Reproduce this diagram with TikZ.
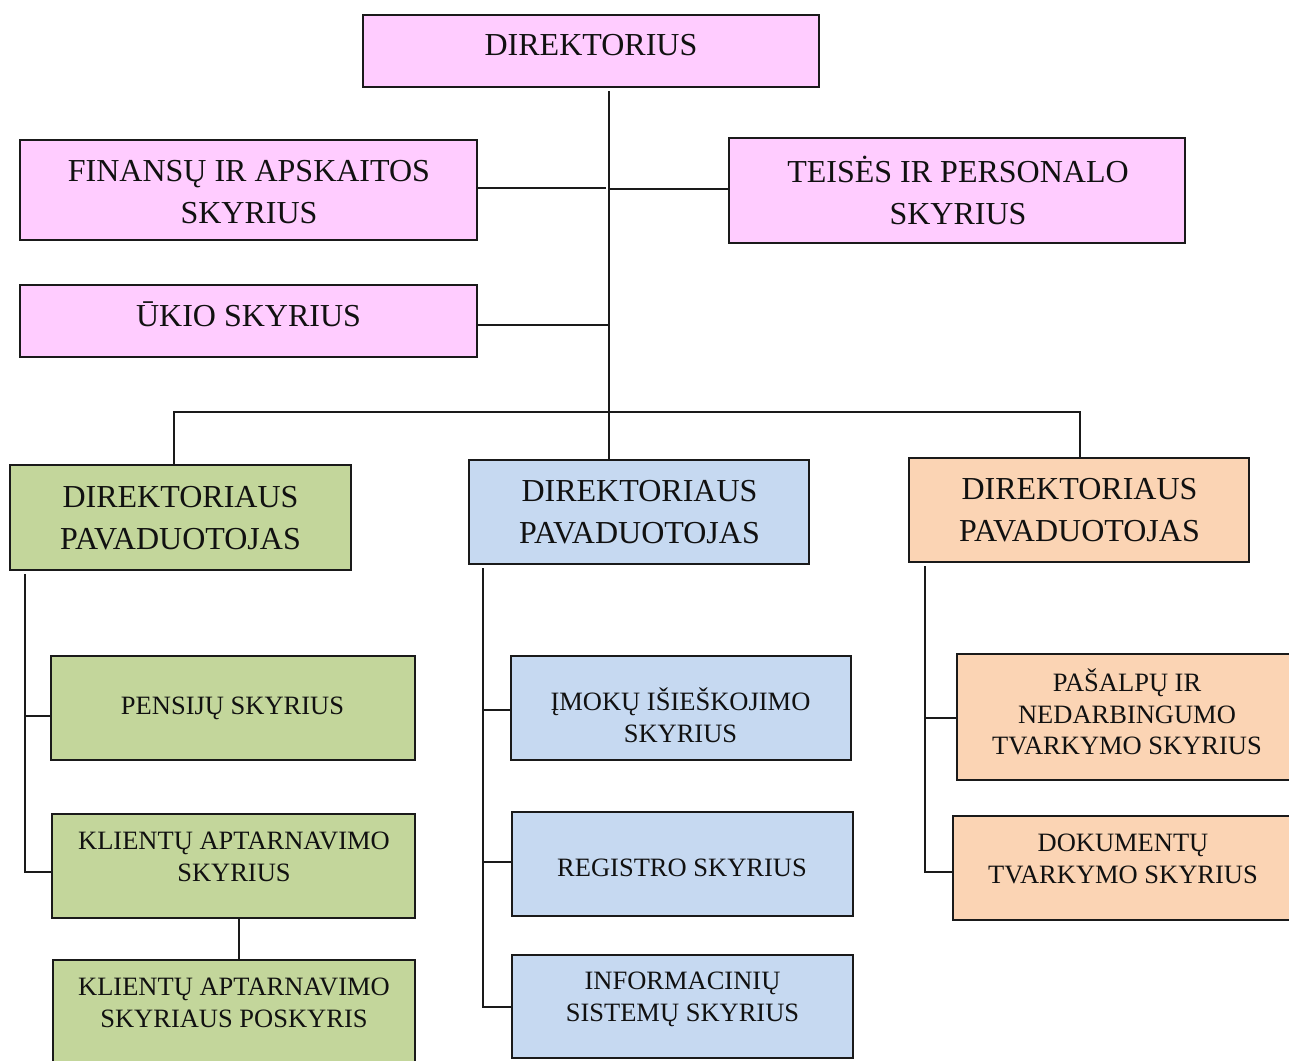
\documentclass[tikz,border=0pt]{standalone}
\usepackage{fontspec}
\setmainfont{Liberation Serif}
\usetikzlibrary{calc}
\definecolor{cpink}{HTML}{FFCCFF}
\definecolor{cgreen}{HTML}{C3D69B}
\definecolor{cblue}{HTML}{C6D9F1}
\definecolor{corange}{HTML}{FBD4B4}
\definecolor{cline}{HTML}{1A1A1A}
\definecolor{ctext}{HTML}{111111}
\tikzset{
  box/.style={draw=cline, line width=2pt, inner sep=0pt, rectangle},
  bigtxt/.style={inner sep=0pt, align=center, text=ctext, font=\fontsize{32}{42}\selectfont},
  smalltxt/.style={inner sep=0pt, align=center, text=ctext, font=\fontsize{26.5}{32}\selectfont},
  conn/.style={draw=cline, line width=2pt},
}
\begin{document}
\begin{tikzpicture}[x=1pt,y=-1pt]
\clip (0,0) rectangle (1289,1060);
\fill[white] (0,0) rectangle (1289,1060);

% boxes
\node[box, fill=cpink, minimum width=456pt, minimum height=72pt] (dir) at (591,51) {};
\node[box, fill=cpink, minimum width=457pt, minimum height=100pt] (fin) at (248.5,190) {};
\node[box, fill=cpink, minimum width=456pt, minimum height=105pt] (teis) at (957,190.5) {};
\node[box, fill=cpink, minimum width=457pt, minimum height=72pt] (uk) at (248.5,321) {};
\node[box, fill=cgreen, minimum width=341pt, minimum height=105pt] (green) at (180.5,517.5) {};
\node[box, fill=cblue, minimum width=340pt, minimum height=104pt] (blue) at (639,512) {};
\node[box, fill=corange, minimum width=340pt, minimum height=104pt] (orange) at (1079,510) {};
\node[box, fill=cgreen, minimum width=364pt, minimum height=104pt] (pens) at (233,708) {};
\node[box, fill=cgreen, minimum width=363pt, minimum height=104pt] (klient) at (233.5,866) {};
\node[box, fill=cgreen, minimum width=362pt, minimum height=110pt] (posk) at (234,1015) {};
\node[box, fill=cblue, minimum width=340pt, minimum height=104pt] (imok) at (681,708) {};
\node[box, fill=cblue, minimum width=341pt, minimum height=104pt] (reg) at (682.5,864) {};
\node[box, fill=cblue, minimum width=341pt, minimum height=103pt] (info) at (682.5,1006.5) {};
\node[box, fill=corange, minimum width=343pt, minimum height=126pt] (pasalp) at (1128.5,717) {};
\node[box, fill=corange, minimum width=347pt, minimum height=104pt] (dok) at (1126.5,868) {};

% texts
\node[bigtxt] (dirT) at (591,45) {DIREKTORIUS};
\node[bigtxt] (finT) at (249,192) {FINANSŲ IR APSKAITOS\\SKYRIUS};
\node[bigtxt] (teisT) at (958,190) {TEISĖS IR PERSONALO\\SKYRIUS};
\node[bigtxt] (ukT) at (248.5,314) {ŪKIO SKYRIUS};
\node[bigtxt] (greenT) at (180.5,518) {DIREKTORIAUS\\PAVADUOTOJAS};
\node[bigtxt] (blueT) at (639.5,512) {DIREKTORIAUS\\PAVADUOTOJAS};
\node[bigtxt] (orangeT) at (1079.5,510) {DIREKTORIAUS\\PAVADUOTOJAS};
\node[smalltxt] (pensT) at (232.5,708) {PENSIJŲ SKYRIUS};
\node[smalltxt] (klientT) at (234,857) {KLIENTŲ APTARNAVIMO\\SKYRIUS};
\node[smalltxt] (poskT) at (234,1003) {KLIENTŲ APTARNAVIMO\\SKYRIAUS POSKYRIS};
\node[smalltxt] (imokT) at (680.5,715) {ĮMOKŲ IŠIEŠKOJIMO\\SKYRIUS};
\node[smalltxt] (regT) at (682,868) {REGISTRO SKYRIUS};
\node[smalltxt] (infoT) at (682.5,999) {INFORMACINIŲ\\SISTEMŲ SKYRIUS};
\node[smalltxt, font=\fontsize{26.5}{31.5}\selectfont] (pasalpT) at (1127,712) {PAŠALPŲ IR\\NEDARBINGUMO\\TVARKYMO SKYRIUS};
\node[smalltxt] (dokT) at (1123,859) {DOKUMENTŲ\\TVARKYMO SKYRIUS};

% connector helper coordinates
\coordinate (trunk) at (609,0);
\coordinate (busL) at (174,412);
\coordinate (busR) at (1080,412);
\coordinate (gx) at (25,0);
\coordinate (bx) at (483,0);
\coordinate (ox) at (925,0);
\coordinate (kx) at (239,0);

% connectors
\draw[conn] ([yshift=-3pt]dir.south -| trunk) -- (blue.north -| trunk);
\draw[conn] ([yshift=2pt]fin.east) -- ([xshift=-3pt,yshift=2pt]fin.east -| trunk);
\draw[conn] ([yshift=2pt]teis.west) -- ([yshift=2pt]teis.west -| trunk);
\draw[conn] ([yshift=-4pt]uk.east) -- ([yshift=-4pt]uk.east -| trunk);
\draw[conn] (green.north -| busL) -- (busL) -- (busR) -- (orange.north -| busR);

\draw[conn] ([yshift=-3pt]green.south -| gx) |- ([yshift=-6pt]klient.west);
\draw[conn] ([yshift=-8pt]pens.west -| gx) -- ([yshift=-8pt]pens.west);

\draw[conn] ([yshift=-3pt]blue.south -| bx) |- (info.west);
\draw[conn] ([yshift=-2pt]imok.west -| bx) -- ([yshift=-2pt]imok.west);
\draw[conn] ([yshift=2pt]reg.west -| bx) -- ([yshift=2pt]reg.west);

\draw[conn] ([yshift=-3pt]orange.south -| ox) |- ([yshift=-4pt]dok.west);
\draw[conn] ([yshift=-1pt]pasalp.west -| ox) -- ([yshift=-1pt]pasalp.west);

\draw[conn] (klient.south -| kx) -- (posk.north -| kx);
\end{tikzpicture}
\end{document}
